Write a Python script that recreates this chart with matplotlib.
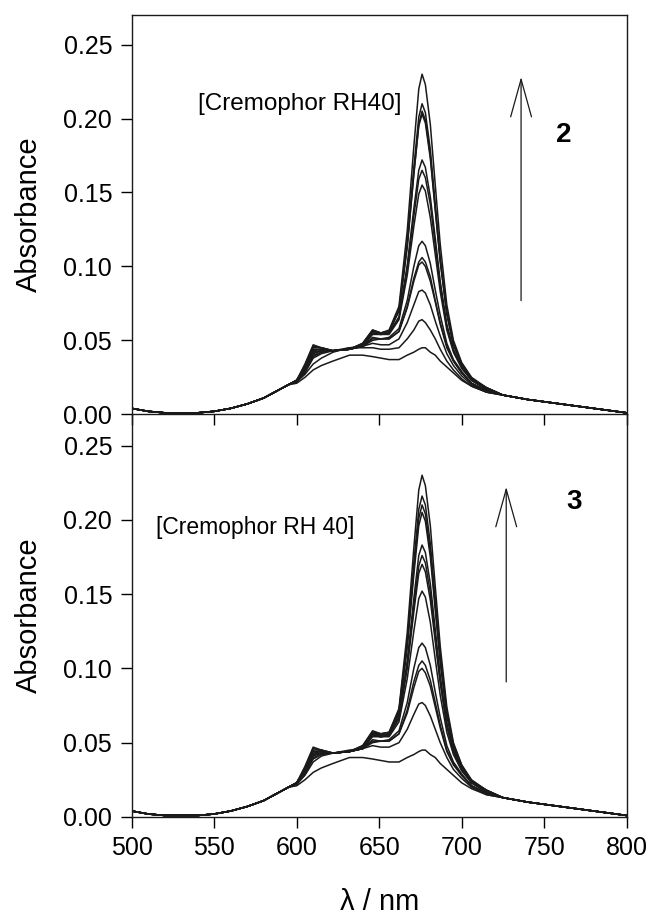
import matplotlib
matplotlib.use("Agg")
import matplotlib.pyplot as plt

plt.rcParams['font.family'] = ['Liberation Sans', 'DejaVu Sans']

# wavelength grid (nm)
wl_blue = [500, 510, 520, 530, 540, 550, 560, 570, 580, 590, 595]
wl_mid = [600, 605, 610, 615, 622, 632, 640, 646, 651, 656, 662, 667, 671, 674,
          676, 678, 681, 684, 687, 691, 695, 700, 706, 715]
wl_red = [725, 740, 760, 780, 800]

# parts shared by all spectra
abs_blue = [0.004, 0.002, 0.001, 0.001, 0.001, 0.002, 0.004, 0.007, 0.011, 0.017, 0.020]
abs_red = [0.013, 0.010, 0.007, 0.004, 0.001]

# compound 2, increasing [Cremophor RH40]
spectra_2 = [
    [0.023, 0.033, 0.046, 0.045, 0.043, 0.044, 0.048, 0.057, 0.055, 0.057, 0.073, 0.124, 0.181, 0.220, 0.230, 0.223, 0.196, 0.155, 0.115, 0.074, 0.050, 0.035, 0.025, 0.018],
    [0.023, 0.034, 0.047, 0.045, 0.043, 0.044, 0.048, 0.057, 0.055, 0.056, 0.071, 0.116, 0.167, 0.201, 0.210, 0.204, 0.179, 0.142, 0.106, 0.069, 0.048, 0.034, 0.024, 0.018],
    [0.023, 0.032, 0.045, 0.045, 0.043, 0.044, 0.047, 0.056, 0.055, 0.056, 0.070, 0.114, 0.163, 0.196, 0.205, 0.199, 0.175, 0.139, 0.104, 0.068, 0.047, 0.034, 0.024, 0.018],
    [0.023, 0.031, 0.044, 0.044, 0.043, 0.044, 0.047, 0.056, 0.055, 0.056, 0.070, 0.113, 0.162, 0.195, 0.203, 0.197, 0.173, 0.138, 0.103, 0.068, 0.047, 0.034, 0.024, 0.018],
    [0.023, 0.031, 0.043, 0.044, 0.043, 0.044, 0.047, 0.055, 0.054, 0.055, 0.066, 0.101, 0.139, 0.165, 0.172, 0.167, 0.147, 0.119, 0.090, 0.061, 0.044, 0.032, 0.023, 0.017],
    [0.023, 0.030, 0.042, 0.043, 0.043, 0.044, 0.046, 0.055, 0.054, 0.055, 0.065, 0.098, 0.134, 0.159, 0.165, 0.160, 0.142, 0.114, 0.087, 0.059, 0.043, 0.032, 0.023, 0.017],
    [0.023, 0.030, 0.041, 0.043, 0.043, 0.044, 0.046, 0.054, 0.054, 0.054, 0.064, 0.094, 0.127, 0.149, 0.155, 0.151, 0.133, 0.108, 0.083, 0.057, 0.042, 0.031, 0.023, 0.017],
    [0.023, 0.030, 0.042, 0.043, 0.043, 0.044, 0.046, 0.052, 0.051, 0.052, 0.058, 0.077, 0.100, 0.114, 0.117, 0.114, 0.102, 0.084, 0.067, 0.048, 0.037, 0.029, 0.021, 0.016],
    [0.022, 0.029, 0.040, 0.042, 0.043, 0.044, 0.046, 0.051, 0.051, 0.051, 0.056, 0.073, 0.092, 0.103, 0.106, 0.103, 0.093, 0.077, 0.062, 0.046, 0.036, 0.028, 0.021, 0.016],
    [0.022, 0.029, 0.039, 0.042, 0.043, 0.044, 0.046, 0.050, 0.051, 0.051, 0.056, 0.072, 0.090, 0.101, 0.103, 0.100, 0.090, 0.076, 0.061, 0.045, 0.036, 0.028, 0.021, 0.016],
    [0.022, 0.028, 0.038, 0.041, 0.043, 0.045, 0.046, 0.048, 0.047, 0.047, 0.051, 0.062, 0.074, 0.083, 0.084, 0.082, 0.074, 0.063, 0.053, 0.041, 0.033, 0.026, 0.020, 0.015],
    [0.022, 0.027, 0.034, 0.038, 0.042, 0.045, 0.045, 0.045, 0.044, 0.044, 0.045, 0.051, 0.057, 0.063, 0.064, 0.062, 0.057, 0.051, 0.044, 0.036, 0.030, 0.024, 0.019, 0.015],
    [0.021, 0.025, 0.030, 0.033, 0.036, 0.040, 0.040, 0.039, 0.038, 0.037, 0.037, 0.040, 0.042, 0.044, 0.045, 0.045, 0.042, 0.040, 0.036, 0.032, 0.028, 0.023, 0.019, 0.015],
]

# compound 3, increasing [Cremophor RH 40]
spectra_3 = [
    [0.023, 0.033, 0.046, 0.045, 0.043, 0.044, 0.048, 0.058, 0.056, 0.057, 0.073, 0.124, 0.181, 0.220, 0.230, 0.223, 0.196, 0.155, 0.115, 0.074, 0.050, 0.035, 0.025, 0.018],
    [0.023, 0.034, 0.047, 0.045, 0.043, 0.044, 0.048, 0.057, 0.056, 0.057, 0.072, 0.118, 0.171, 0.207, 0.216, 0.210, 0.184, 0.146, 0.109, 0.071, 0.049, 0.035, 0.024, 0.018],
    [0.023, 0.032, 0.045, 0.045, 0.043, 0.044, 0.047, 0.057, 0.055, 0.056, 0.071, 0.116, 0.167, 0.201, 0.210, 0.204, 0.179, 0.142, 0.106, 0.069, 0.048, 0.034, 0.024, 0.018],
    [0.023, 0.031, 0.044, 0.044, 0.043, 0.044, 0.047, 0.056, 0.055, 0.056, 0.070, 0.114, 0.163, 0.196, 0.205, 0.199, 0.175, 0.139, 0.104, 0.068, 0.047, 0.034, 0.024, 0.018],
    [0.023, 0.031, 0.043, 0.044, 0.043, 0.044, 0.047, 0.056, 0.054, 0.055, 0.068, 0.105, 0.147, 0.176, 0.183, 0.178, 0.157, 0.126, 0.095, 0.063, 0.045, 0.033, 0.023, 0.017],
    [0.023, 0.030, 0.042, 0.043, 0.043, 0.044, 0.046, 0.055, 0.054, 0.055, 0.067, 0.102, 0.142, 0.169, 0.176, 0.171, 0.151, 0.121, 0.092, 0.062, 0.044, 0.033, 0.023, 0.017],
    [0.023, 0.030, 0.042, 0.043, 0.043, 0.044, 0.046, 0.055, 0.054, 0.055, 0.066, 0.100, 0.138, 0.164, 0.170, 0.165, 0.146, 0.118, 0.090, 0.061, 0.044, 0.032, 0.023, 0.017],
    [0.023, 0.030, 0.041, 0.043, 0.043, 0.044, 0.046, 0.054, 0.054, 0.054, 0.064, 0.093, 0.125, 0.147, 0.152, 0.148, 0.131, 0.106, 0.082, 0.057, 0.042, 0.031, 0.023, 0.017],
    [0.023, 0.030, 0.042, 0.043, 0.043, 0.044, 0.046, 0.052, 0.051, 0.052, 0.058, 0.077, 0.100, 0.114, 0.117, 0.114, 0.102, 0.084, 0.067, 0.048, 0.037, 0.029, 0.021, 0.016],
    [0.022, 0.029, 0.040, 0.042, 0.043, 0.044, 0.046, 0.051, 0.051, 0.051, 0.056, 0.072, 0.091, 0.102, 0.105, 0.102, 0.092, 0.077, 0.062, 0.045, 0.036, 0.028, 0.021, 0.016],
    [0.022, 0.029, 0.039, 0.042, 0.043, 0.044, 0.046, 0.050, 0.051, 0.051, 0.056, 0.070, 0.087, 0.098, 0.100, 0.097, 0.088, 0.074, 0.060, 0.044, 0.035, 0.028, 0.021, 0.016],
    [0.022, 0.028, 0.037, 0.041, 0.043, 0.045, 0.046, 0.048, 0.047, 0.047, 0.050, 0.059, 0.069, 0.076, 0.077, 0.075, 0.068, 0.059, 0.050, 0.040, 0.032, 0.026, 0.020, 0.015],
    [0.021, 0.025, 0.030, 0.033, 0.036, 0.040, 0.040, 0.039, 0.038, 0.037, 0.037, 0.040, 0.042, 0.044, 0.045, 0.045, 0.042, 0.040, 0.036, 0.032, 0.028, 0.023, 0.019, 0.015],
]

panels = [
    (spectra_2, '[Cremophor RH40]', 17.5, (540, 0.210), '2', (762, 0.189), (736, 0.075, 0.230)),
    (spectra_3, '[Cremophor RH 40]', 16.5, (515, 0.195), '3', (768, 0.212), (727, 0.089, 0.224)),
]

wl = wl_blue + wl_mid + wl_red

fig = plt.figure(figsize=(6.5, 9.17), dpi=100)
ax_top = fig.add_axes([0.2026, 0.5482, 0.7615, 0.4354])
ax_bot = fig.add_axes([0.2026, 0.1091, 0.7615, 0.4391])
ax_bot.patch.set_visible(False)

for ax, (spectra, label, label_fs, label_pos, num, num_pos, arrow) in zip([ax_top, ax_bot], panels):
    for s in spectra:
        ax.plot(wl, abs_blue + s + abs_red, color='#1a1a1a', lw=1.1)
    ax.set_xlim(500, 800)
    ax.set_yticks([0.0, 0.05, 0.10, 0.15, 0.20, 0.25])
    ax.set_yticklabels(['0.00', '0.05', '0.10', '0.15', '0.20', '0.25'])
    ax.set_xticks([500, 550, 600, 650, 700, 750, 800])
    ax.tick_params(direction='out', length=8, width=1, labelsize=18, pad=6)
    ax.set_ylabel('Absorbance', fontsize=21, labelpad=15)
    for sp in ax.spines.values():
        sp.set_linewidth(1.0)
        sp.set_color('#1a1a1a')
    ax.text(label_pos[0], label_pos[1], label, fontsize=label_fs, va='center', ha='left')
    ax.text(num_pos[0], num_pos[1], num, fontsize=20, fontweight='bold', va='center', ha='center')
    ax.annotate('', xy=(arrow[0], arrow[2]), xytext=(arrow[0], arrow[1]),
                arrowprops=dict(arrowstyle='->,head_length=2.7,head_width=0.75', lw=0.9, color='#1a1a1a'))

ax_top.set_ylim(0, 0.27)
ax_bot.set_ylim(0, 0.271)
ax_top.tick_params(axis='x', labelbottom=False)
ax_bot.spines['top'].set_visible(False)
ax_bot.set_xlabel('λ / nm', fontsize=21, labelpad=20)

fig.savefig('out.png', dpi=100)
